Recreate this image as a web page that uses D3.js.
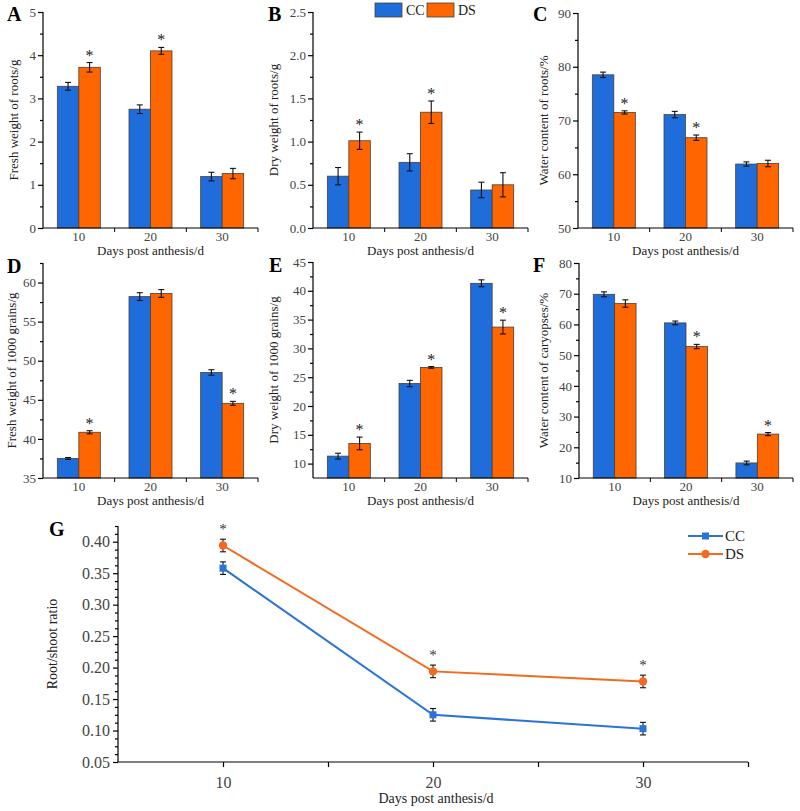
<!DOCTYPE html>
<html><head><meta charset="utf-8">
<script src="https://cdn.jsdelivr.net/npm/d3@7"></script>
<style>body{margin:0;background:#fff}svg{display:block}text{font-family:"Liberation Serif","DejaVu Serif",serif}</style>
</head><body><svg id="c" width="800" height="811"></svg>
<script>
const days = ["10", "20", "30"];
const series = ["CC", "DS"];
const colors = {CC: "#1f6ddb", DS: "#ff6600"};
const lineColors = {CC: "#2b72d9", DS: "#f26a1f"};

// Panel A: Fresh weight of roots
const aCC = [3.28, 2.75, 1.19], aCCErr = [0.09, 0.1, 0.1];
const aDS = [3.72, 4.10, 1.26], aDSErr = [0.11, 0.08, 0.12];
const aSig = [1, 1, 0];
// Panel B: Dry weight of roots
const bCC = [0.60, 0.76, 0.44], bCCErr = [0.1, 0.1, 0.09];
const bDS = [1.01, 1.34, 0.50], bDSErr = [0.1, 0.13, 0.14];
const bSig = [1, 1, 0];
// Panel C: Water content of roots
const cCC = [78.5, 71.1, 61.9], cCCErr = [0.5, 0.6, 0.4];
const cDS = [71.5, 66.8, 62.0], cDSErr = [0.3, 0.5, 0.6];
const cSig = [1, 1, 0];
// Panel D: Fresh weight of 1000 grains
const dCC = [37.5, 58.2, 48.5], dCCErr = [0.12, 0.5, 0.35];
const dDS = [40.85, 58.6, 44.55], dDSErr = [0.2, 0.5, 0.25];
const dSig = [1, 0, 1];
// Panel E: Dry weight of 1000 grains
const eCC = [11.3, 23.9, 41.3], eCCErr = [0.5, 0.55, 0.6];
const eDS = [13.5, 26.7, 33.7], eDSErr = [1.1, 0.15, 1.2];
const eSig = [1, 1, 1];
// Panel F: Water content of caryopses
const fCC = [69.8, 60.5, 14.9], fCCErr = [0.8, 0.6, 0.6];
const fDS = [66.8, 52.8, 24.3], fDSErr = [1.2, 0.7, 0.5];
const fSig = [0, 1, 1];
// Panel G: Root/shoot ratio
const gDays = [10, 20, 30];
const gCC = [0.358, 0.125, 0.103], gCCErr = [0.01, 0.01, 0.01];
const gDS = [0.394, 0.194, 0.178], gDSErr = [0.01, 0.01, 0.01];
const gSig = [1, 1, 1];
const gTicks = [0.05, 0.10, 0.15, 0.20, 0.25, 0.30, 0.35, 0.40];

const svg = d3.select("#c");

function barPanel(o) {
  const g = svg.append("g");
  const x = d3.scaleBand().domain(days).range([o.x0, o.x1]).paddingInner(0.4).paddingOuter(0.2);
  const xs = d3.scaleBand().domain(series).range([0, x.bandwidth()]);
  const y = d3.scaleLinear().domain(o.domain).range([o.y1, o.y0]);
  const data = days.map((d, i) => ({d, vals: [
    {s: "CC", v: o.cc[i], e: o.ccErr[i], sig: 0},
    {s: "DS", v: o.ds[i], e: o.dsErr[i], sig: o.sig[i]}]}));
  const grp = g.selectAll("g.grp").data(data).join("g").attr("transform", d => `translate(${x(d.d)},0)`);
  grp.selectAll("rect").data(d => d.vals).join("rect")
    .attr("x", d => xs(d.s)).attr("width", xs.bandwidth())
    .attr("y", d => y(d.v)).attr("height", d => y(o.domain[0]) - y(d.v))
    .attr("fill", d => colors[d.s]).attr("stroke", "#4a4038").attr("stroke-width", 0.8);
  const eb = grp.selectAll("g.eb").data(d => d.vals).join("g")
    .attr("transform", d => `translate(${xs(d.s) + xs.bandwidth() / 2},0)`);
  eb.append("line").attr("y1", d => y(d.v + d.e)).attr("y2", d => y(d.v - d.e)).attr("stroke", "#111").attr("stroke-width", 1.1);
  eb.append("line").attr("x1", -3).attr("x2", 3).attr("y1", d => y(d.v + d.e)).attr("y2", d => y(d.v + d.e)).attr("stroke", "#111").attr("stroke-width", 1.1);
  eb.append("line").attr("x1", -3).attr("x2", 3).attr("y1", d => y(d.v - d.e)).attr("y2", d => y(d.v - d.e)).attr("stroke", "#111").attr("stroke-width", 1.1);
  eb.filter(d => d.sig).append("text").attr("text-anchor", "middle")
    .attr("y", d => y(d.v + d.e) - 2).attr("font-size", 16).attr("fill", "#222").text("*");
  // y axis
  const ya = d3.axisLeft(y).tickValues(o.ticks).tickFormat(o.fmt).tickSize(5).tickSizeOuter(0);
  const yg = g.append("g").attr("transform", `translate(${o.x0},0)`).call(ya);
  const yMinor = d3.axisLeft(y).tickValues(o.minor).tickFormat("").tickSize(3).tickSizeOuter(0);
  g.append("g").attr("transform", `translate(${o.x0},0)`).call(yMinor).select(".domain").remove();
  yg.select(".domain").attr("d", `M0,${o.y0}V${o.y1}`);
  yg.selectAll("text").attr("font-size", 13).attr("fill", "#444").attr("x", -7);
  // x axis
  const xa = d3.axisBottom(x).tickSize(0).tickPadding(4);
  const xg = g.append("g").attr("transform", `translate(0,${o.y1})`).call(xa);
  xg.select(".domain").attr("d", `M${o.x0},0H${o.x1}`);
  xg.selectAll("text").attr("font-size", 13).attr("fill", "#444");
  const step = x.step();
  xg.selectAll("line.sep").data([1, 2, 3]).join("line").attr("class", "sep")
    .attr("x1", i => o.x0 + i * step).attr("x2", i => o.x0 + i * step).attr("y1", 0).attr("y2", 4).attr("stroke", "#000");
  g.selectAll(".domain,.tick line").attr("stroke", "#000").attr("stroke-width", 1.2);
  g.append("text").attr("x", (o.x0 + o.x1) / 2).attr("y", o.y1 + 27).attr("text-anchor", "middle")
    .attr("font-size", 13).attr("fill", "#222").text("Days post anthesis/d");
  g.append("text").attr("transform", `translate(${o.lx},${(o.y0 + o.y1) / 2}) rotate(-90)`).attr("text-anchor", "middle")
    .attr("font-size", 13).attr("fill", "#222").text(o.label);
  g.append("text").attr("x", o.px).attr("y", o.py).attr("font-size", 20).attr("font-weight", "bold").attr("fill", "#000").text(o.letter);
}

const f1 = d3.format(".1f");
barPanel({letter: "A", px: 7, py: 21, x0: 43, x1: 258, y0: 12, y1: 228, domain: [0, 5], ticks: d3.range(0, 5.01, 1), minor: d3.range(0.5, 5, 1), fmt: d3.format("d"),
  cc: aCC, ccErr: aCCErr, ds: aDS, dsErr: aDSErr, sig: aSig, lx: 18, label: "Fresh weight of roots/g"});
barPanel({letter: "B", px: 268, py: 21, x0: 313, x1: 528, y0: 12, y1: 228, domain: [0, 2.5], ticks: d3.range(0, 2.51, 0.5), minor: d3.range(0.25, 2.5, 0.5), fmt: f1,
  cc: bCC, ccErr: bCCErr, ds: bDS, dsErr: bDSErr, sig: bSig, lx: 278, label: "Dry weight of roots/g"});
barPanel({letter: "C", px: 533, py: 21, x0: 578, x1: 793, y0: 13, y1: 228, domain: [50, 90], ticks: d3.range(50, 90.1, 10), minor: d3.range(55, 90, 10), fmt: d3.format("d"),
  cc: cCC, ccErr: cCCErr, ds: cDS, dsErr: cDSErr, sig: cSig, lx: 548, label: "Water content of roots/%"});
barPanel({letter: "D", px: 7, py: 273, x0: 43, x1: 258, y0: 263, y1: 478, domain: [35, 62.5], ticks: d3.range(35, 60.1, 5), minor: d3.range(37.5, 62.6, 5), fmt: d3.format("d"),
  cc: dCC, ccErr: dCCErr, ds: dDS, dsErr: dDSErr, sig: dSig, lx: 16, label: "Fresh weight of 1000 grains/g"});
barPanel({letter: "E", px: 269, py: 272, x0: 313, x1: 528, y0: 262, y1: 478, domain: [7.5, 45], ticks: d3.range(10, 45.1, 5), minor: d3.range(12.5, 45, 5), fmt: d3.format("d"),
  cc: eCC, ccErr: eCCErr, ds: eDS, dsErr: eDSErr, sig: eSig, lx: 278, label: "Dry weight of 1000 grains/g"});
barPanel({letter: "F", px: 533, py: 272, x0: 579, x1: 793, y0: 263, y1: 478, domain: [10, 80], ticks: d3.range(10, 80.1, 10), minor: d3.range(15, 80, 10), fmt: d3.format("d"),
  cc: fCC, ccErr: fCCErr, ds: fDS, dsErr: fDSErr, sig: fSig, lx: 548, label: "Water content of caryopses/%"});

// legend top (B)
const leg = svg.append("g");
series.forEach((s, i) => {
  const lx = 375 + i * 52;
  leg.append("rect").attr("x", lx).attr("y", 3).attr("width", 27).attr("height", 14).attr("fill", colors[s]).attr("stroke", "#4a4038").attr("stroke-width", 0.8);
  leg.append("text").attr("x", lx + 31).attr("y", 15).attr("font-size", 14).attr("fill", "#222").text(s);
});

// Panel G
(function () {
  const g = svg.append("g");
  const x0 = 118, x1 = 748, y0 = 526, y1 = 762;
  const x = d3.scaleLinear().domain([5, 35]).range([x0, x1]);
  const y = d3.scaleLinear().domain([0.05, 0.425]).range([y1, y0]);
  const ya = d3.axisLeft(y).tickValues(gTicks).tickFormat(d3.format(".2f")).tickSize(5).tickSizeOuter(0);
  const yg = g.append("g").attr("transform", `translate(${x0},0)`).call(ya);
  yg.select(".domain").attr("d", `M0,${y0}V${y1}`);
  yg.selectAll("text").attr("font-size", 16).attr("fill", "#444").attr("x", -8);
  g.append("g").attr("transform", `translate(${x0},0)`)
    .call(d3.axisLeft(y).tickValues(d3.range(0.0625, 0.426, 0.0125).filter(v => Math.abs(v * 20 - Math.round(v * 20)) > 1e-6)).tickFormat("").tickSize(3))
    .select(".domain").remove();
  const xa = d3.axisBottom(x).tickValues([10, 15, 20, 25, 30, 35]).tickFormat(v => gDays.includes(v) ? v : "").tickSize(5).tickSizeOuter(0).tickPadding(10);
  const xg = g.append("g").attr("transform", `translate(0,${y1})`).call(xa);
  xg.select(".domain").attr("d", `M${x0},0H${x1}`);
  xg.selectAll("text").attr("font-size", 16).attr("fill", "#444");
  g.selectAll(".domain,.tick line").attr("stroke", "#000").attr("stroke-width", 1.2);

  const sets = [{s: "CC", v: gCC, e: gCCErr}, {s: "DS", v: gDS, e: gDSErr}];
  const line = d3.line().x(d => x(d.d)).y(d => y(d.v));
  sets.forEach(st => {
    const pts = gDays.map((d, i) => ({d, v: st.v[i], e: st.e[i]}));
    g.append("path").datum(pts).attr("d", line).attr("fill", "none").attr("stroke", lineColors[st.s]).attr("stroke-width", 2);
    const eb = g.selectAll(null).data(pts).join("g").attr("transform", d => `translate(${x(d.d)},0)`);
    eb.append("line").attr("y1", d => y(d.v + d.e)).attr("y2", d => y(d.v - d.e)).attr("stroke", "#111").attr("stroke-width", 1.1);
    [1, -1].forEach(sg => eb.append("line").attr("x1", -3).attr("x2", 3).attr("y1", d => y(d.v + sg * d.e)).attr("y2", d => y(d.v + sg * d.e)).attr("stroke", "#111").attr("stroke-width", 1.1));
    if (st.s === "CC") eb.append("rect").attr("x", -3.5).attr("y", d => y(d.v) - 3.5).attr("width", 7).attr("height", 7).attr("fill", lineColors.CC);
    else eb.append("circle").attr("cy", d => y(d.v)).attr("r", 4.2).attr("fill", lineColors.DS);
  });
  g.selectAll(null).data(gDays.filter((d, i) => gSig[i])).join("text").attr("text-anchor", "middle")
    .attr("x", d => x(d)).attr("y", d => y(gDS[gDays.indexOf(d)] + gDSErr[gDays.indexOf(d)]) - 5).attr("font-size", 15).attr("fill", "#333").text("*");
  g.append("text").attr("x", (x0 + x1) / 2 + 3).attr("y", 803).attr("text-anchor", "middle").attr("font-size", 14).attr("fill", "#222").text("Days post anthesis/d");
  g.append("text").attr("transform", `translate(57,${(y0 + y1) / 2}) rotate(-90)`).attr("text-anchor", "middle").attr("font-size", 14).attr("fill", "#222").text("Root/shoot ratio");
  g.append("text").attr("x", 49).attr("y", 536).attr("font-size", 20).attr("font-weight", "bold").text("G");
  // legend
  sets.forEach((st, i) => {
    const ly = 536 + i * 18;
    g.append("line").attr("x1", 688).attr("x2", 723).attr("y1", ly).attr("y2", ly).attr("stroke", lineColors[st.s]).attr("stroke-width", 2);
    if (st.s === "CC") g.append("rect").attr("x", 702).attr("y", ly - 3.5).attr("width", 7).attr("height", 7).attr("fill", lineColors.CC);
    else g.append("circle").attr("cx", 705.5).attr("cy", ly).attr("r", 4.2).attr("fill", lineColors.DS);
    g.append("text").attr("x", 725).attr("y", ly + 5).attr("font-size", 15).attr("fill", "#222").text(st.s);
  });
})();
</script></body></html>
